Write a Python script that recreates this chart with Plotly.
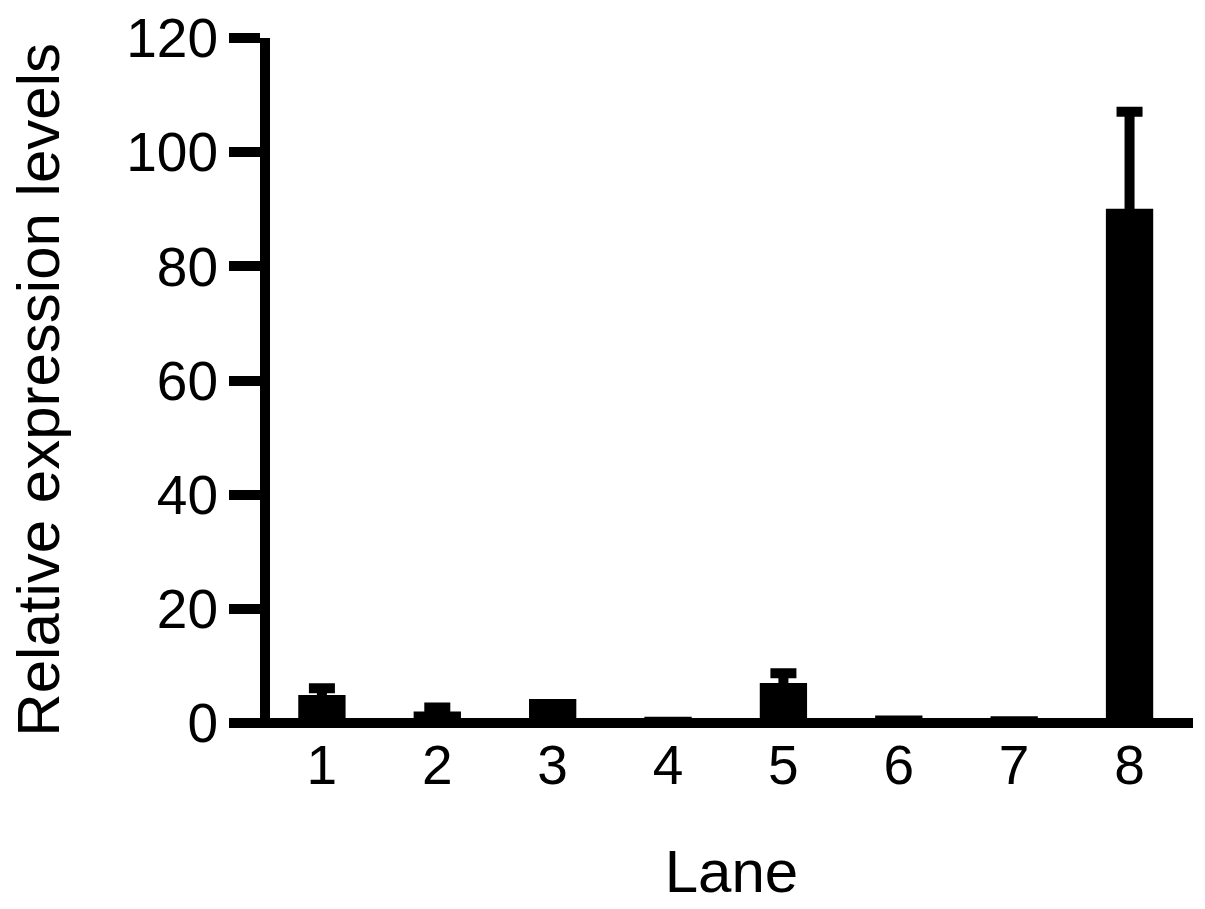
import plotly.graph_objects as go

# lanes and measured relative expression (mean, upper error)
lanes = ["1", "2", "3", "4", "5", "6", "7", "8"]
expression = [4.9, 2.0, 4.2, 1.1, 7.0, 1.3, 1.2, 90.1]
error_up = [1.2, 0.7, 0.0, 0.0, 1.7, 0.0, 0.0, 17.0]
y_ticks = [0, 20, 40, 60, 80, 100, 120]

FONT = "Liberation Sans, Arial, Helvetica, sans-serif"

fig = go.Figure()
fig.add_trace(go.Bar(
    x=lanes, y=expression, width=0.41,
    marker=dict(color="black", line=dict(width=0)),
    hoverinfo="x+y",
))

# error bars only where there is one; the lower end runs down to 0 inside the bar
err_lanes = [l for l, e in zip(lanes, error_up) if e > 0]
err_vals = [v for v, e in zip(expression, error_up) if e > 0]
err_up = [e for e in error_up if e > 0]
fig.add_trace(go.Scatter(
    x=err_lanes, y=err_vals, mode="markers",
    marker=dict(size=1, opacity=0),
    error_y=dict(type="data", symmetric=False, array=err_up,
                 arrayminus=err_vals, color="black",
                 thickness=10, width=13),
    hoverinfo="skip",
))

fig.update_layout(
    width=1205, height=909,
    margin=dict(l=262, r=20, t=30, b=189),
    paper_bgcolor="white", plot_bgcolor="white",
    showlegend=False,
    font=dict(family=FONT, color="black"),
    xaxis=dict(
        type="category", range=[-0.45, 7.55], automargin=False,
        showline=False, showgrid=False, zeroline=False,
        ticks="", tickfont=dict(size=55), ticklabelstandoff=0,
        title=dict(text="Lane", font=dict(size=60), standoff=54),
    ),
    yaxis=dict(
        range=[-0.87, 120], tickvals=y_ticks, automargin=False,
        showline=True, linewidth=10, linecolor="black",
        ticks="outside", ticklen=31, tickwidth=10, tickcolor="black",
        tickfont=dict(size=55), showgrid=False, ticklabeloverflow="allow",
        zeroline=True, zerolinewidth=10, zerolinecolor="black",
    ),
)

# y title as an annotation so it can sit right at the left edge
fig.add_annotation(
    text="Relative expression levels", textangle=-90,
    xref="paper", yref="paper", x=-0.289, y=0.49,
    xanchor="left", yanchor="middle", showarrow=False,
    font=dict(size=60, family=FONT, color="black"),
)

fig.write_html("out.html")
